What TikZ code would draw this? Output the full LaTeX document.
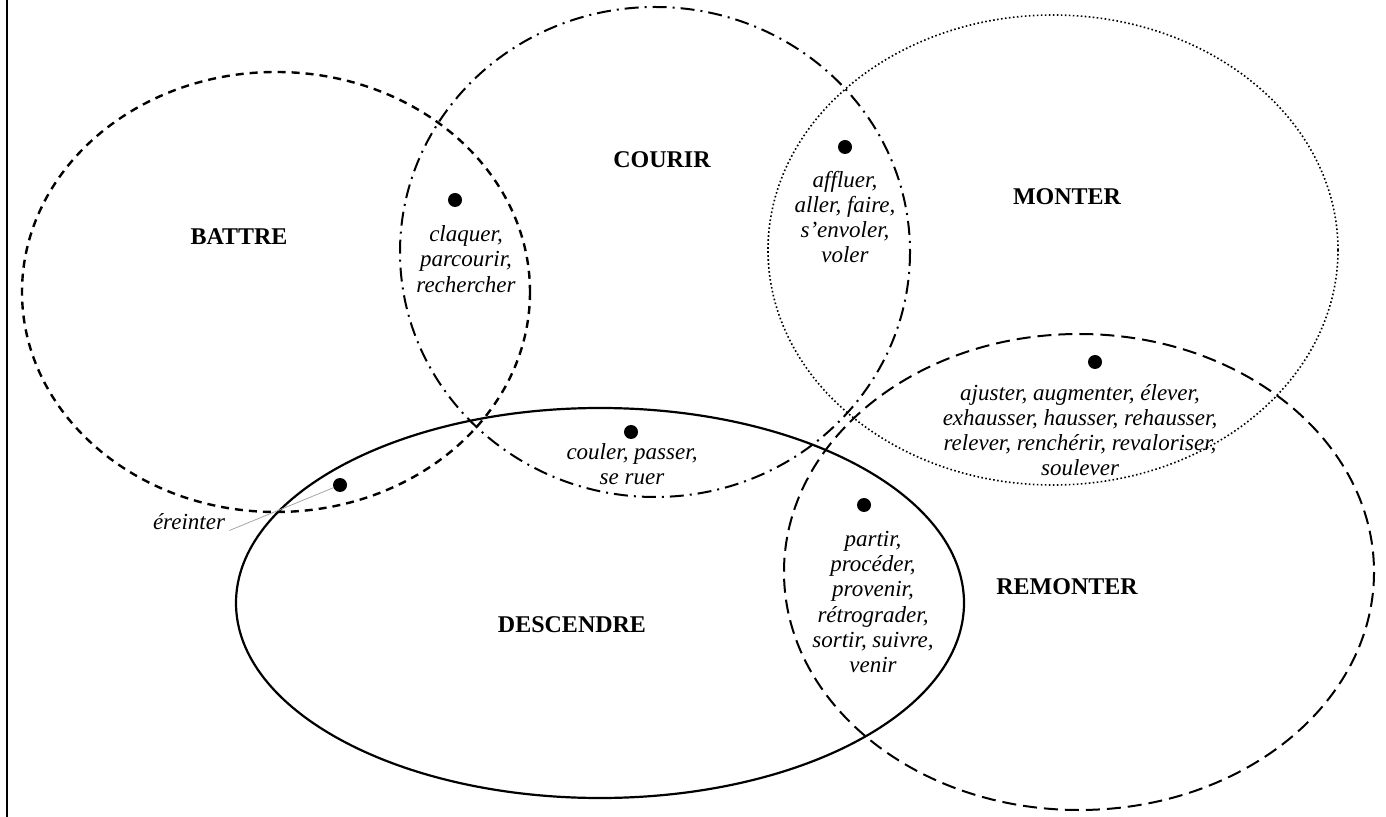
\documentclass[tikz,border=0pt]{standalone}
\usepackage{fontspec}
\setmainfont{Liberation Serif}
\usetikzlibrary{positioning}
\tikzset{
  setname/.style={font=\fontsize{12}{14}\selectfont\bfseries, inner sep=0pt},
  verbs/.style={font=\fontsize{11.5}{12.6}\selectfont\itshape, align=center, inner sep=0pt},
  bullet/.style={circle, fill=black, inner sep=0pt, minimum size=7pt},
  battreline/.style={line width=1.2pt, dash pattern=on 4pt off 3pt},
  courirline/.style={line width=1pt, dash pattern=on 7pt off 3pt on 1pt off 3pt},
  monterline/.style={line width=0.8pt, dash pattern=on 0.8pt off 1.2pt},
  remonterline/.style={line width=1pt, dash pattern=on 7pt off 3.5pt},
  descendreline/.style={line width=1.1pt},
  leader/.style={draw=black!35, line width=0.4pt}
}
\begin{document}
\begin{tikzpicture}[x=0.5pt, y=-0.5pt]
  \useasboundingbox (0,0) rectangle (1386,817);
  \draw[line width=1pt] (7,0) -- (7,817);

  % the five sets
  \draw[battreline] (276,292) ellipse [x radius=254, y radius=220];
  \draw[courirline] (655,252) ellipse [x radius=255, y radius=245];
  \draw[monterline] (1053,250) ellipse [x radius=285, y radius=235];
  \draw[remonterline] (1079,572) ellipse [x radius=295, y radius=238];
  \draw[descendreline] (600,603) ellipse [x radius=364, y radius=195];

  \node[setname] (battre) at (239,237) {BATTRE};
  \node[setname] (courir) at (662,160) {COURIR};
  \node[setname] (monter) at (1067,197) {MONTER};
  \node[setname] (remonter) at (1067,587) {REMONTER};
  \node[setname] (descendre) at (572,625) {DESCENDRE};

  % shared verbs
  \node[bullet] (dBC) at (455,200) {};
  \node[verbs] (vBC) at (466,259) {claquer,\\parcourir,\\rechercher};
  \node[bullet] (dCM) at (845,147) {};
  \node[verbs] (vCM) at (845,217) {affluer,\\aller, faire,\\s'envoler,\\voler};
  \node[bullet] (dCD) at (631,432) {};
  \node[verbs] (vCD) at (632,464) {couler, passer,\\se ruer};
  \node[bullet] (dMR) at (1095,362) {};
  \node[verbs] (vMR) at (1080,430) {ajuster, augmenter, élever,\\exhausser, hausser, rehausser,\\relever, renchérir, revaloriser,\\soulever};
  \node[bullet] (dDR) at (864,505) {};
  \node[verbs] (vDR) at (873,602) {partir,\\procéder,\\provenir,\\rétrograder,\\sortir, suivre,\\venir};
  \node[bullet] (dBD) at (340,485) {};
  \node[verbs] (vBD) at (189,522) {éreinter};

  \draw[leader] ([xshift=2pt]vBD.south east) -- (dBD);
\end{tikzpicture}
\end{document}
